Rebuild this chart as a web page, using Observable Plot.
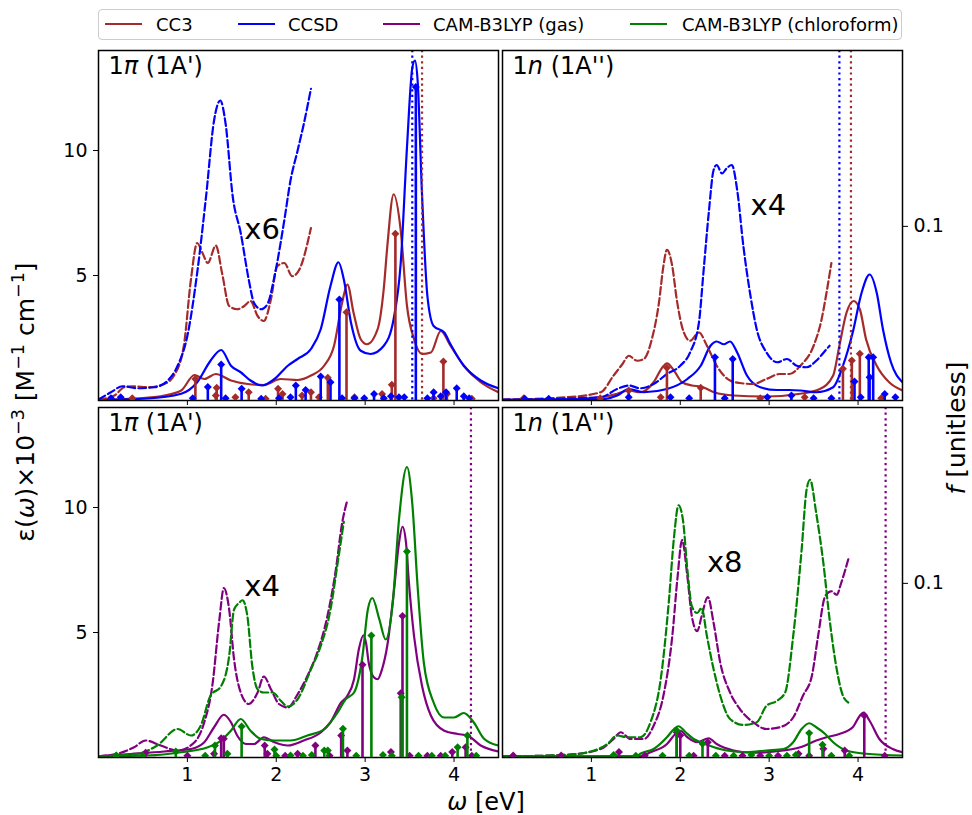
<!DOCTYPE html>
<html><head><meta charset="utf-8">
<script src="https://cdn.jsdelivr.net/npm/d3@7"></script>
<script src="https://cdn.jsdelivr.net/npm/@observablehq/plot@0.6"></script>
<style>
body{margin:0;background:#fff;font-family:"DejaVu Sans",sans-serif;}
#fig{position:relative;width:972px;height:815px;overflow:hidden;background:#fff;}
#fig svg{position:absolute;}
.lab{position:absolute;font-family:"DejaVu Sans",sans-serif;color:#000;white-space:nowrap;line-height:1.0;}
#legend{position:absolute;left:98px;top:9px;width:804px;height:31px;border:1px solid #ccc;border-radius:4px;box-sizing:border-box;background:#fff;}
.lgline{position:absolute;height:2px;top:13px;width:37px;}
.lgtext{position:absolute;top:4px;font-size:18px;line-height:22px;font-family:"DejaVu Sans",sans-serif;}
</style></head>
<body><div id="fig"></div>
<script>
// ---------- series / legend ----------
const seriesNames = ["CC3", "CCSD", "CAM-B3LYP (gas)", "CAM-B3LYP (chloroform)"];
const seriesColors = ["#a52a2a", "#0000ff", "#800080", "#008000"];
const xTicks = [1, 2, 3, 4];
const yTicks = [5, 10];
const fTicks = [0.1];
const panelLabels = ["1π (1A')", "1n (1A'')", "1π (1A')", "1n (1A'')"];
const scaleNotes = ["x6", "x4", "x4", "x8"];
const noteX = [1.64, 2.79, 1.64, 2.30];
const noteY = [6.46, 7.44, 6.45, 7.44];

// ---------- top-left: 1π (1A'), CC3 / CCSD ----------
const tl_cc3 = [[0,0.03],[0.5,0.1],[0.74,0.2],[0.93,0.4],[1.08,1.02],[1.19,0.86],[1.32,1.06],[1.49,0.8],[1.68,0.66],[1.86,0.62],[2.05,0.86],[2.24,0.82],[2.39,1.0],[2.54,1.4],[2.65,2.19],[2.74,3.9],[2.80,4.64],[2.87,3.5],[2.95,2.45],[3.02,2.25],[3.14,2.85],[3.21,4.5],[3.25,6.2],[3.32,8.25],[3.40,6.8],[3.47,3.8],[3.55,2.45],[3.64,1.86],[3.74,1.92],[3.85,2.78],[3.96,2.19],[4.11,1.39],[4.30,0.73],[4.5,0.33]];
const tl_ccsd = [[0,0.03],[0.55,0.08],[0.93,0.27],[1.11,0.73],[1.26,1.59],[1.38,2.02],[1.49,1.39],[1.60,1.13],[1.71,0.8],[1.84,0.6],[1.98,0.86],[2.13,1.39],[2.24,1.66],[2.39,2.06],[2.50,2.85],[2.61,4.58],[2.70,5.53],[2.76,4.84],[2.84,3.12],[2.95,1.99],[3.06,1.86],[3.21,2.19],[3.32,3.25],[3.40,5.5],[3.47,10.1],[3.53,13.3],[3.56,13.6],[3.59,12.8],[3.64,8.2],[3.70,4.18],[3.77,2.98],[3.89,2.72],[3.96,2.25],[4.11,1.39],[4.30,0.8],[4.5,0.49]];
const tl_cc3_x6 = [[0,0.04],[0.18,0.2],[0.29,0.53],[0.40,0.57],[0.55,0.53],[0.74,0.66],[0.85,1.0],[0.96,2.19],[1.04,4.84],[1.11,6.3],[1.17,5.9],[1.23,5.5],[1.32,6.2],[1.39,5.1],[1.47,3.78],[1.56,3.65],[1.64,3.78],[1.71,3.98],[1.79,3.38],[1.86,3.18],[1.94,4.05],[2.01,5.37],[2.09,5.5],[2.18,4.97],[2.26,5.24],[2.39,6.9]];
const tl_ccsd_x6 = [[0,0.04],[0.14,0.33],[0.27,0.57],[0.44,0.49],[0.63,0.53],[0.78,0.8],[0.89,1.39],[1.00,2.59],[1.11,5.1],[1.21,8.16],[1.30,11.2],[1.37,12.0],[1.43,11.07],[1.51,8.16],[1.60,6.7],[1.69,4.84],[1.75,3.9],[1.83,3.65],[1.90,3.85],[1.98,4.97],[2.09,7.2],[2.16,8.8],[2.24,10.0],[2.31,11.07],[2.39,12.47]];
const tl_cc3_f = [[0.38,0.0013],[1.09,0.0124],[1.32,0.0029],[1.33,0.0073],[1.54,0.0019],[1.69,0.0048],[1.88,0.001],[2.02,0.0067],[2.07,0.0038],[2.29,0.0029],[2.39,0.0048],[2.48,0.0019],[2.58,0.013],[2.79,0.0507],[2.88,0.0019],[3.19,0.0038],[3.30,0.009],[3.34,0.0957],[3.77,0.0013],[3.88,0.0224],[3.92,0.0038],[4.2,0.001]];
const tl_ccsd_f = [[0.14,0.0013],[0.25,0.0019],[1.06,0.0013],[1.23,0.0077],[1.38,0.0207],[1.43,0.0013],[1.61,0.0067],[1.83,0.001],[2.03,0.0013],[2.16,0.0019],[2.22,0.0086],[2.33,0.0061],[2.50,0.0138],[2.61,0.0105],[2.71,0.058],[2.74,0.0013],[2.88,0.0013],[2.99,0.0013],[3.10,0.0038],[3.21,0.0013],[3.29,0.0025],[3.38,0.0019],[3.44,0.0019],[3.57,0.18],[3.70,0.0013],[3.77,0.0048],[3.85,0.0025],[3.91,0.0048],[4.03,0.0071],[4.11,0.0025],[4.17,0.0013]];
const tl_onsets = [3.53, 3.64];          // CCSD, CC3

// ---------- top-right: 1n (1A''), CC3 / CCSD ----------
const tr_cc3 = [[0,0.03],[0.73,0.05],[1.105,0.13],[1.29,0.27],[1.42,0.4],[1.55,0.33],[1.70,0.73],[1.80,1.33],[1.85,1.49],[1.93,1.19],[2.02,0.73],[2.13,0.6],[2.23,0.56],[2.38,0.33],[2.60,0.2],[2.97,0.16],[3.35,0.27],[3.57,0.46],[3.72,1.0],[3.79,2.19],[3.87,3.51],[3.95,3.98],[4.02,3.65],[4.09,2.45],[4.21,1.39],[4.35,0.73],[4.5,0.4]];
const tr_ccsd = [[0,0.03],[1.105,0.05],[1.29,0.2],[1.42,0.46],[1.59,0.33],[1.85,0.46],[2.08,0.86],[2.23,1.39],[2.34,2.19],[2.41,2.36],[2.49,2.25],[2.56,2.36],[2.64,1.92],[2.75,1.0],[2.90,0.53],[3.09,0.42],[3.23,0.42],[3.35,0.4],[3.53,0.33],[3.72,0.53],[3.83,1.39],[3.94,2.72],[4.04,4.31],[4.13,5.04],[4.21,4.31],[4.28,2.85],[4.37,1.53],[4.5,0.73]];
const tr_cc3_x4 = [[0,0.03],[0.73,0.13],[1.105,0.33],[1.25,1.0],[1.35,1.46],[1.42,1.79],[1.515,1.59],[1.59,1.66],[1.68,2.45],[1.76,3.91],[1.81,5.37],[1.85,6.03],[1.91,5.37],[1.96,4.05],[2.04,2.72],[2.11,2.39],[2.21,2.72],[2.30,2.19],[2.41,1.39],[2.56,0.8],[2.67,0.7],[2.82,0.66],[2.97,0.86],[3.12,1.06],[3.23,1.06],[3.35,1.39],[3.50,2.19],[3.59,3.25],[3.645,4.31],[3.70,5.5]];
const tr_ccsd_x4 = [[0,0.03],[1.105,0.13],[1.29,0.46],[1.42,0.6],[1.55,0.49],[1.70,0.66],[1.85,1.06],[2.00,1.39],[2.11,1.92],[2.21,3.12],[2.26,5.1],[2.32,7.49],[2.375,9.22],[2.41,9.42],[2.47,9.08],[2.52,9.28],[2.58,9.42],[2.64,8.42],[2.71,6.17],[2.79,4.18],[2.86,2.85],[2.97,1.92],[3.09,1.53],[3.20,1.66],[3.31,1.39],[3.42,1.33],[3.53,1.59],[3.63,1.99],[3.68,2.19]];
const tr_cc3_f = [[0.24,0.0013],[1.10,0.0013],[1.42,0.0057],[1.78,0.0019],[1.85,0.0188],[2.23,0.0073],[2.90,0.0013],[3.40,0.0019],[3.83,0.0182],[3.93,0.023],[4.02,0.0268],[4.26,0.0013]];
const tr_ccsd_f = [[0.25,0.001],[0.52,0.001],[1.42,0.0019],[1.89,0.0019],[2.10,0.0013],[2.39,0.0249],[2.50,0.0013],[2.59,0.0239],[2.98,0.0019],[3.25,0.0029],[3.50,0.0013],[3.70,0.0013],[3.96,0.0109],[4.03,0.0019],[4.12,0.0249],[4.13,0.0134],[4.17,0.0249],[4.30,0.0038],[4.42,0.0019]];
const tr_onsets = [3.79, 3.92];          // CCSD, CC3

// ---------- bottom-left: 1π (1A'), CAM-B3LYP ----------
const bl_gas = [[0,0.05],[0.36,0.14],[0.74,0.24],[1.04,0.34],[1.19,0.61],[1.30,1.21],[1.41,1.71],[1.49,1.41],[1.56,0.88],[1.66,0.54],[1.75,0.54],[1.86,0.81],[1.98,0.61],[2.13,0.48],[2.31,0.68],[2.50,1.0],[2.61,1.41],[2.73,2.2],[2.80,2.47],[2.875,3.13],[2.93,4.35],[2.98,4.89],[3.01,4.58],[3.04,3.79],[3.10,3.2],[3.14,3.13],[3.19,3.53],[3.25,4.5],[3.325,6.71],[3.38,8.57],[3.42,9.23],[3.46,8.57],[3.49,7.1],[3.55,4.85],[3.64,2.86],[3.74,1.67],[3.89,1.07],[4.04,0.94],[4.15,0.88],[4.30,0.48],[4.5,0.24]];
const bl_chl = [[0,0.05],[0.55,0.08],[0.93,0.21],[1.23,0.41],[1.38,0.68],[1.49,1.07],[1.60,1.54],[1.71,1.07],[1.83,0.74],[1.98,0.68],[2.16,0.68],[2.35,0.88],[2.54,1.14],[2.69,1.8],[2.78,2.33],[2.875,2.6],[2.97,4.06],[3.03,5.92],[3.08,6.38],[3.16,5.52],[3.23,4.72],[3.31,6.18],[3.38,9.5],[3.47,11.62],[3.53,10.16],[3.59,6.84],[3.66,3.79],[3.77,2.2],[3.89,1.6],[4.00,1.6],[4.11,1.78],[4.22,1.41],[4.34,0.74],[4.5,0.48]];
const bl_gas_x4 = [[0,0.05],[0.21,0.15],[0.40,0.41],[0.53,0.68],[0.70,0.48],[0.89,0.28],[1.08,0.61],[1.19,1.41],[1.28,2.86],[1.36,5.52],[1.41,6.78],[1.47,5.92],[1.525,3.93],[1.60,2.6],[1.69,2.14],[1.79,2.6],[1.86,3.24],[1.94,2.73],[2.03,2.14],[2.13,2.0],[2.24,2.53],[2.35,3.26],[2.46,4.19],[2.575,5.65],[2.67,7.51],[2.74,9.36],[2.80,10.3]];
const bl_chl_x4 = [[0,0.05],[0.44,0.15],[0.66,0.48],[0.89,1.14],[1.04,0.88],[1.15,1.27],[1.26,2.47],[1.38,2.86],[1.47,4.06],[1.525,5.92],[1.58,6.18],[1.62,6.29],[1.675,5.65],[1.73,3.66],[1.79,2.73],[1.86,2.6],[1.96,2.6],[2.05,2.27],[2.13,2.04],[2.24,2.33],[2.39,3.53],[2.50,4.46],[2.61,5.92],[2.69,7.77],[2.76,9.43]];
const bl_gas_f = [[0.20,0.001],[0.53,0.0027],[1.00,0.001],[1.30,0.0021],[1.38,0.0111],[1.41,0.0107],[1.87,0.0069],[1.90,0.0021],[2.10,0.001],[2.24,0.0021],[2.44,0.0069],[2.60,0.001],[2.73,0.0126],[2.80,0.004],[2.97,0.0532],[3.29,0.0031],[3.40,0.0369],[3.42,0.0812],[3.50,0.001],[3.70,0.001],[3.85,0.001],[3.98,0.0031],[4.13,0.0059],[4.20,0.001]];
const bl_chl_f = [[0.20,0.0011],[0.50,0.001],[0.87,0.0034],[1.20,0.001],[1.31,0.0069],[1.45,0.0021],[1.61,0.0178],[1.98,0.0046],[2.00,0.001],[2.16,0.0011],[2.30,0.001],[2.40,0.0015],[2.54,0.004],[2.58,0.004],[2.75,0.0165],[2.90,0.001],[3.07,0.07],[3.20,0.0015],[3.30,0.001],[3.41,0.0346],[3.47,0.1183],[3.60,0.001],[3.75,0.001],[3.90,0.001],[4.04,0.0059],[4.15,0.0126],[4.25,0.001]];
const bl_onsets = [4.19];                // gas

// ---------- bottom-right: 1n (1A''), CAM-B3LYP ----------
const br_gas = [[0,0.04],[1.55,0.05],[1.665,0.21],[1.85,0.54],[1.945,0.94],[2.00,1.07],[2.08,0.81],[2.19,0.61],[2.32,0.77],[2.41,0.54],[2.60,0.28],[2.82,0.19],[3.16,0.28],[3.35,0.41],[3.53,0.68],[3.645,0.81],[3.79,0.94],[3.94,1.21],[4.02,1.67],[4.06,1.8],[4.13,1.47],[4.24,0.74],[4.39,0.34],[4.5,0.21]];
const br_chl = [[0,0.04],[1.51,0.05],[1.55,0.15],[1.70,0.34],[1.85,0.81],[1.93,1.14],[1.98,1.25],[2.06,1.01],[2.15,0.74],[2.23,0.61],[2.38,0.41],[2.52,0.28],[2.75,0.21],[2.97,0.28],[3.16,0.34],[3.27,0.61],[3.365,1.14],[3.45,1.37],[3.53,1.21],[3.63,0.94],[3.72,0.61],[3.87,0.28],[4.09,0.15],[4.5,0.08]];
const br_gas_x8 = [[0,0.04],[0.73,0.11],[1.105,0.34],[1.25,0.74],[1.33,1.01],[1.44,0.74],[1.59,0.74],[1.70,1.27],[1.81,2.47],[1.91,4.85],[1.97,7.24],[2.02,8.7],[2.08,7.24],[2.13,5.65],[2.19,5.05],[2.24,5.65],[2.31,6.42],[2.375,5.38],[2.45,3.79],[2.56,2.6],[2.67,1.94],[2.82,1.41],[2.97,1.14],[3.12,1.21],[3.27,1.6],[3.38,2.47],[3.48,3.26],[3.55,4.85],[3.63,6.45],[3.70,6.65],[3.76,6.51],[3.81,6.98],[3.89,7.93]];
const br_chl_x8 = [[0,0.04],[0.73,0.11],[1.03,0.28],[1.18,0.54],[1.29,0.88],[1.40,0.81],[1.55,0.81],[1.665,1.41],[1.78,3.13],[1.87,6.18],[1.93,8.83],[1.98,10.09],[2.03,9.5],[2.08,7.51],[2.13,6.05],[2.19,5.78],[2.24,5.98],[2.30,4.85],[2.375,3.53],[2.45,2.47],[2.56,1.54],[2.71,1.3],[2.86,1.41],[2.97,2.07],[3.09,2.27],[3.18,2.6],[3.27,4.85],[3.365,8.3],[3.42,10.69],[3.46,11.11],[3.53,9.76],[3.61,7.77],[3.68,5.52],[3.76,3.53],[3.83,2.47],[3.89,2.2]];
const br_gas_f = [[0.12,0.0011],[0.66,0.0011],[1.31,0.0031],[1.60,0.001],[1.96,0.0145],[2.00,0.0126],[2.15,0.001],[2.31,0.0088],[2.50,0.001],[2.70,0.001],[2.90,0.001],[3.10,0.001],[3.33,0.0021],[3.45,0.001],[3.61,0.005],[3.85,0.004],[4.07,0.0241],[4.30,0.001]];
const br_chl_f = [[1.25,0.0015],[1.50,0.001],[1.80,0.001],[1.96,0.0155],[2.10,0.001],[2.25,0.0079],[2.40,0.001],[2.60,0.001],[2.80,0.0015],[3.00,0.001],[3.20,0.001],[3.30,0.0015],[3.45,0.014],[3.60,0.0073],[3.70,0.001],[3.90,0.001]];
const br_onsets = [4.31];                // gas

// ---------- panel assembly ----------
const C = seriesColors;
const panels = [
  {left:98, top:50, showX:false, showY:true, showF:false, label:0,
   curves:[[tl_cc3,C[0],false],[tl_ccsd,C[1],false],[tl_cc3_x6,C[0],true],[tl_ccsd_x6,C[1],true]],
   sticks:[[tl_cc3_f,C[0]],[tl_ccsd_f,C[1]]],
   vlines:[[tl_onsets[0],C[1]],[tl_onsets[1],C[0]]]},
  {left:502, top:50, showX:false, showY:false, showF:true, label:1,
   curves:[[tr_cc3,C[0],false],[tr_ccsd,C[1],false],[tr_cc3_x4,C[0],true],[tr_ccsd_x4,C[1],true]],
   sticks:[[tr_cc3_f,C[0]],[tr_ccsd_f,C[1]]],
   vlines:[[tr_onsets[0],C[1]],[tr_onsets[1],C[0]]]},
  {left:98, top:407, showX:true, showY:true, showF:false, label:2,
   curves:[[bl_gas,C[2],false],[bl_chl,C[3],false],[bl_gas_x4,C[2],true],[bl_chl_x4,C[3],true]],
   sticks:[[bl_gas_f,C[2]],[bl_chl_f,C[3]]],
   vlines:[[bl_onsets[0],C[2]]]},
  {left:502, top:407, showX:true, showY:false, showF:true, label:3,
   curves:[[br_gas,C[2],false],[br_chl,C[3],false],[br_gas_x8,C[2],true],[br_chl_x8,C[3],true]],
   sticks:[[br_gas_f,C[2]],[br_chl_f,C[3]]],
   vlines:[[br_onsets[0],C[2]]]}
];

const W = 400, H = 350, ML = 60, MR = 60, MT = 10, MB = 40;
const fig = document.getElementById("fig");
const common = {
  width: W + ML + MR, height: H + MT + MB,
  marginLeft: ML, marginRight: MR, marginTop: MT, marginBottom: MB,
  style: {fontFamily: "DejaVu Sans", fontSize: "19px", background: "transparent", overflow: "visible", color: "black"}
};

panels.forEach((p, i) => {
  const marks = [];
  p.curves.forEach(([data, color, dashed]) => {
    const opt = {x: d => d[0], y: d => d[1], stroke: color, strokeWidth: 2.2, curve: "monotone-x", clip: true};
    if (dashed) opt.strokeDasharray = "7.6,3.3";
    marks.push(Plot.line(data, opt));
  });
  p.vlines.forEach(([x, color]) => {
    marks.push(Plot.ruleX([x], {x: d => d, stroke: color, strokeWidth: 2.2, strokeDasharray: "2.2,3.4"}));
  });
  marks.push(Plot.text([scaleNotes[i]], {x: () => noteX[i], y: () => noteY[i], text: d => d,
    textAnchor: "start", lineAnchor: "bottom", fontSize: 29, fill: "black"}));
  marks.push(Plot.text([panelLabels[i]], {frameAnchor: "top-left", dx: 10, dy: 6, text: d => d,
    textAnchor: "start", lineAnchor: "top", fontSize: 24, fill: "black"}));
  marks.push(Plot.frame({stroke: "black", strokeWidth: 1.5}));

  const main = Plot.plot({
    ...common,
    x: {domain: [0, 4.5], ticks: xTicks, tickSize: 5, tickPadding: 5, label: null,
        tickFormat: p.showX ? (d => String(d)) : (() => "")},
    y: {domain: [0, 14], ticks: yTicks, tickSize: 5, tickPadding: 6, label: null,
        axis: p.showY ? "left" : null, tickFormat: d => String(d)},
    marks
  });
  main.style.left = (p.left - ML) + "px";
  main.style.top = (p.top - MT) + "px";
  // italic orbital symbol in the panel label
  d3.select(main).selectAll("text").each(function () {
    if (this.textContent === panelLabels[i]) {
      const t = panelLabels[i];
      this.textContent = "";
      const s = d3.select(this);
      s.append("tspan").text(t[0]);
      s.append("tspan").attr("font-style", "italic").text(t[1]);
      s.append("tspan").text(t.slice(2));
    }
  });
  fig.appendChild(main);

  const smarks = [];
  p.sticks.forEach(([data, color]) => {
    smarks.push(Plot.ruleX(data, {x: d => d[0], y1: 0, y2: d => d[1], stroke: color, strokeWidth: 2.6, clip: true}));
    smarks.push(Plot.dot(data, {x: d => d[0], y: d => d[1], symbol: "diamond2", r: 3.6, fill: color, clip: true}));
  });
  const sticks = Plot.plot({
    ...common,
    x: {domain: [0, 4.5], axis: null},
    y: {domain: [0, 0.201], ticks: fTicks, tickSize: 5, tickPadding: 6, label: null,
        axis: p.showF ? "right" : null, tickFormat: d => String(d)},
    marks: smarks
  });
  sticks.style.left = (p.left - ML) + "px";
  sticks.style.top = (p.top - MT) + "px";
  fig.appendChild(sticks);
});

// ---------- legend ----------
const legend = document.createElement("div");
legend.id = "legend";
const lineLeft = [6, 139, 284, 531];
const textLeft = [57, 189, 334, 583];
seriesNames.forEach((name, k) => {
  const l = document.createElement("div");
  l.className = "lgline"; l.style.left = lineLeft[k] + "px"; l.style.background = seriesColors[k];
  const t = document.createElement("div");
  t.className = "lgtext"; t.style.left = textLeft[k] + "px"; t.textContent = name;
  legend.appendChild(l); legend.appendChild(t);
});
fig.appendChild(legend);

// ---------- axis labels ----------
const xl = document.createElement("div");
xl.className = "lab";
xl.style.cssText += "left:486px;top:802px;font-size:24px;transform:translate(-50%,-50%);";
xl.innerHTML = "<i>ω</i> [eV]";
fig.appendChild(xl);

const yl = document.createElement("div");
yl.className = "lab";
yl.style.cssText += "left:24px;top:402px;font-size:25px;transform:translate(-50%,-50%) rotate(-90deg);";
yl.innerHTML = "ε(<i>ω</i>)×10<sup style='font-size:0.7em'>−3</sup> [M<sup style='font-size:0.7em'>−1</sup> cm<sup style='font-size:0.7em'>−1</sup>]";
fig.appendChild(yl);

const fl = document.createElement("div");
fl.className = "lab";
fl.style.cssText += "left:956px;top:428px;font-size:25px;transform:translate(-50%,-50%) rotate(-90deg);";
fl.innerHTML = "<i>f</i> [unitless]";
fig.appendChild(fl);
</script>
</body></html>
